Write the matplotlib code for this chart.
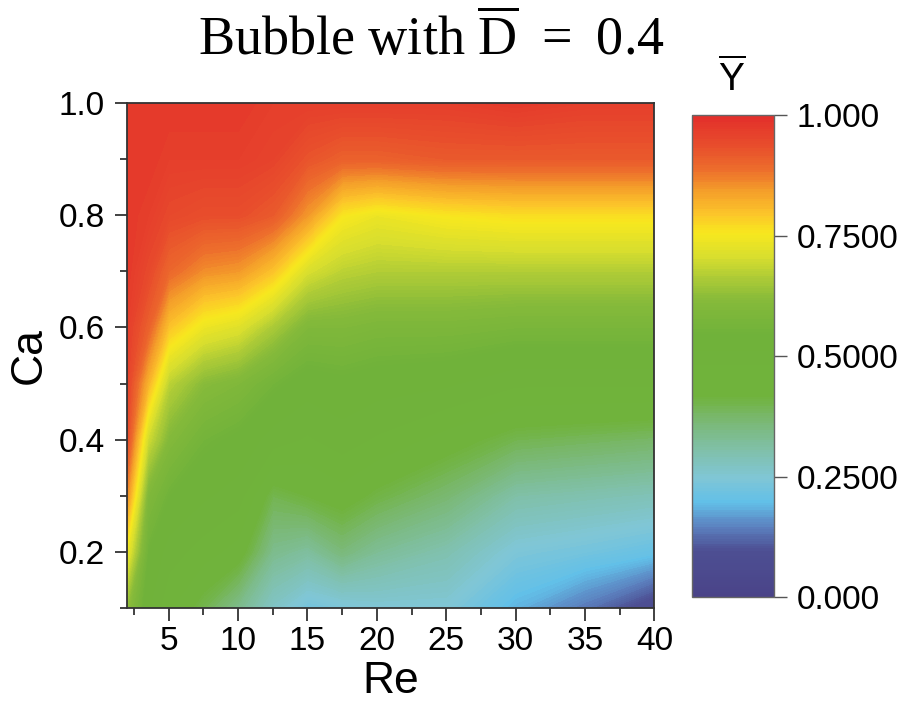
import numpy as np
import matplotlib
matplotlib.use("Agg")
import matplotlib.pyplot as plt
from matplotlib.colors import LinearSegmentedColormap

plt.rcParams['font.family'] = ['Liberation Sans', 'DejaVu Sans']
plt.rcParams['mathtext.fontset'] = 'custom'
plt.rcParams['mathtext.rm'] = 'Liberation Serif'
plt.rcParams['mathtext.sf'] = 'Liberation Sans'
plt.rcParams['mathtext.it'] = 'Liberation Serif:italic'

# ---- data ----
re_values = [2, 3.5, 5, 7.5, 10, 12.5, 15, 17.5, 20, 25, 30, 35, 40]
ca_values = [0.1, 0.2, 0.3, 0.4, 0.5, 0.6, 0.7, 0.8, 0.9, 1.0]
# Y-bar at each Re (rows) for Ca = 0.1 ... 1.0
y_re_2    = [0.63, 0.74, 0.86, 0.94, 0.96, 0.97, 0.98, 0.98, 0.98, 0.98]
y_re_3_5  = [0.52, 0.55, 0.60, 0.70, 0.82, 0.91, 0.95, 0.97, 0.98, 0.98]
y_re_5    = [0.46, 0.50, 0.55, 0.61, 0.68, 0.80, 0.90, 0.95, 0.97, 0.98]
y_re_7_5  = [0.40, 0.47, 0.52, 0.56, 0.62, 0.74, 0.86, 0.94, 0.97, 0.98]
y_re_10   = [0.34, 0.44, 0.50, 0.54, 0.60, 0.72, 0.85, 0.94, 0.97, 0.98]
y_re_12_5 = [0.27, 0.34, 0.40, 0.50, 0.56, 0.66, 0.80, 0.92, 0.96, 0.97]
y_re_15   = [0.23, 0.32, 0.42, 0.48, 0.53, 0.60, 0.71, 0.85, 0.93, 0.97]
y_re_17_5 = [0.24, 0.36, 0.44, 0.50, 0.54, 0.60, 0.68, 0.76, 0.91, 0.97]
y_re_20   = [0.25, 0.33, 0.41, 0.48, 0.53, 0.59, 0.67, 0.74, 0.91, 0.97]
y_re_25   = [0.25, 0.30, 0.37, 0.44, 0.52, 0.59, 0.67, 0.76, 0.92, 0.97]
y_re_30   = [0.19, 0.245, 0.31, 0.40, 0.49, 0.58, 0.67, 0.77, 0.92, 0.98]
y_re_35   = [0.14, 0.23, 0.30, 0.39, 0.49, 0.58, 0.67, 0.77, 0.92, 0.97]
y_re_40   = [0.07, 0.21, 0.29, 0.38, 0.49, 0.58, 0.67, 0.77, 0.92, 0.97]

y_rows = [y_re_2, y_re_3_5, y_re_5, y_re_7_5, y_re_10, y_re_12_5, y_re_15,
          y_re_17_5, y_re_20, y_re_25, y_re_30, y_re_35, y_re_40]

cbar_ticks = [0.0, 0.25, 0.5, 0.75, 1.0]
cbar_ticklabels = ['0.000', '0.2500', '0.5000', '0.7500', '1.000']
x_ticks = [5, 10, 15, 20, 25, 30, 35, 40]
y_ticks = [0.2, 0.4, 0.6, 0.8, 1.0]

# ---- colormap (Origin-like rainbow) ----
stops = [
    (0.00, '#4a4388'), (0.10, '#4d4f93'), (0.15, '#5c82c0'),
    (0.20, '#62c0e8'), (0.25, '#80c6d6'), (0.31, '#80c0a8'),
    (0.37, '#7ab872'), (0.42, '#70b33c'), (0.55, '#70b23a'),
    (0.62, '#86ba3a'), (0.67, '#b0cc36'), (0.71, '#d8de2e'),
    (0.76, '#f8e81e'), (0.80, '#fcc52a'), (0.85, '#f49c2a'),
    (0.89, '#ed6f2c'), (0.94, '#e84f2c'), (1.00, '#e3302b'),
]
cmap = LinearSegmentedColormap.from_list('origin_rainbow', stops)

fig = plt.figure(figsize=(9.04, 7.18), dpi=100)
ax = fig.add_axes([0.1405, 0.1532, 0.5835, 0.7035])

X, Yg = np.meshgrid(np.array(re_values), np.array(ca_values))
Z = np.array(y_rows).T
levels = np.linspace(0, 1, 201)
cf = ax.contourf(X, Yg, Z, levels=levels, cmap=cmap, vmin=0, vmax=1,
                 antialiased=False)
cf.set_edgecolor('face')
cf.set_linewidth(0.6)

ax.set_xlim(2, 40)
ax.set_ylim(0.1, 1.0)
ax.set_xticks(x_ticks)
ax.set_xticks(np.arange(2.5, 40, 5), minor=True)
ax.set_yticks(y_ticks)
ax.set_yticks([0.1, 0.3, 0.5, 0.7, 0.9], minor=True)
ax.set_yticklabels([f'{v:.1f}' for v in y_ticks])
ax.tick_params(which='major', direction='out', length=9, width=1.3,
               labelsize=24, color='#333333', pad=4)
ax.tick_params(axis='y', which='major', pad=7)
ax.tick_params(which='minor', direction='out', length=5, width=1.3,
               color='#333333')
for s in ax.spines.values():
    s.set_linewidth(1.3)
    s.set_color('#333333')
    s.set_zorder(5)

ax.set_xlabel('Re', fontsize=32, labelpad=3)
ax.set_ylabel('Ca', fontsize=32, labelpad=6)

fig.text(0.4775, 0.944, 'Bubble with $\\overline{\\mathrm{D}}$ \u2009=\u2009 0.4',
         family='Liberation Serif', fontsize=39, ha='center', va='center')

cax = fig.add_axes([0.7650, 0.1685, 0.0915, 0.6713])
cb = fig.colorbar(cf, cax=cax)
cb.set_ticks(cbar_ticks)
cb.set_ticklabels(cbar_ticklabels)
cb.ax.tick_params(labelsize=24, length=9, width=1.0, color='#555555', pad=7)
cb.outline.set_linewidth(1.0)
cb.outline.set_edgecolor('#666666')
for c in cb.ax.collections:
    try:
        c.set_edgecolor('face')
        c.set_antialiased(False)
    except Exception:
        pass
fig.text(0.810, 0.890, r'$\overline{\mathsf{Y}}$', fontsize=28,
         ha='center', va='center')

fig.savefig('out.png', dpi=100)
